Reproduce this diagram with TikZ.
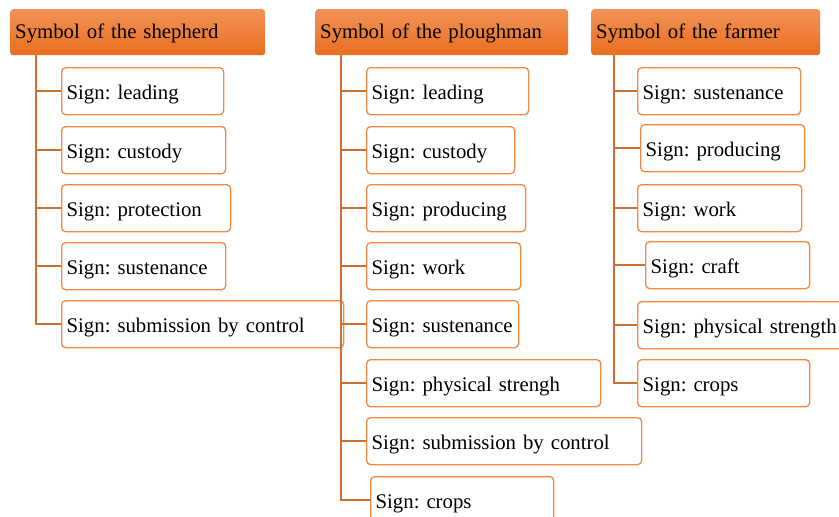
\documentclass[tikz,border=0pt]{standalone}
\usepackage{fontspec}
\setmainfont{Liberation Serif}
\usetikzlibrary{calc}
\definecolor{hdtop}{RGB}{243,146,88}
\definecolor{hdbot}{RGB}{232,110,30}
\definecolor{linec}{RGB}{205,112,52}
\definecolor{boxc}{RGB}{240,138,66}
\tikzset{
  oneline/.style={execute at begin node={\hbox\bgroup}, execute at end node={\egroup}},
  head/.style={anchor=north west, shading=axis, top color=hdtop, bottom color=hdbot,
    rounded corners=3pt, minimum height=46pt, inner xsep=5pt, inner ysep=0pt,
    text height=16pt, text depth=3pt, text width=#1, align=left, oneline},
  signbox/.style={anchor=north west, draw=boxc, line width=1.3pt, rounded corners=4pt,
    fill=white, minimum height=47pt, inner xsep=5pt, inner ysep=0pt,
    text height=19pt, text depth=2pt, text width=#1, align=left, oneline},
  conn/.style={draw=linec, line width=1.8pt}
}
\begin{document}
\frenchspacing
\begin{tikzpicture}[x=1pt,y=-1pt,font=\fontsize{20.8}{24}\selectfont]
\useasboundingbox (0,0) rectangle (839,517);
\clip (0,0) rectangle (839,517);

% column headers
\node[head=245pt] (h1) at (10,9) {Symbol of the shepherd};
\node[head=243pt] (h2) at (315,9) {Symbol of the ploughman};
\node[head=219pt] (h3) at (591,9) {Symbol of the farmer};

% trunk start points below each header
\path (h1.south west) ++(26pt,0) coordinate (t1);
\path (h2.south west) ++(26pt,0) coordinate (t2);
\path (h3.south west) ++(23pt,0) coordinate (t3);

% shepherd signs
\node[signbox=152pt] (a1) at (61,67)  {Sign: leading};
\node[signbox=154pt] (a2) at (61,126) {Sign: custody};
\node[signbox=159pt] (a3) at (61,184) {Sign: protection};
\node[signbox=154pt] (a4) at (61,242) {Sign: sustenance};
\node[signbox=272pt] (a5) at (61,300) {Sign: submission by control};

% ploughman signs
\node[signbox=152pt] (b1) at (366,67)  {Sign: leading};
\node[signbox=138pt] (b2) at (366,126) {Sign: custody};
\node[signbox=149pt] (b3) at (366,184) {Sign: producing};
\node[signbox=144pt] (b4) at (366,242) {Sign: work};
\node[signbox=142pt] (b5) at (366,300) {Sign: sustenance};
\node[signbox=224pt] (b6) at (366,359) {Sign: physical strengh};
\node[signbox=265pt] (b7) at (366,417) {Sign: submission by control};
\node[signbox=173pt] (b8) at (370,476) {Sign: crops};

% farmer signs
\node[signbox=153pt] (c1) at (637,67)  {Sign: sustenance};
\node[signbox=154pt] (c2) at (640,124) {Sign: producing};
\node[signbox=154pt] (c3) at (637,184) {Sign: work};
\node[signbox=154pt] (c4) at (645,241) {Sign: craft};
\node[signbox=200pt] (c5) at (637,301) {Sign: physical strength};
\node[signbox=162pt] (c6) at (637,359) {Sign: crops};

% connectors
\foreach \n in {a1,a2,a3,a4,a5} \draw[conn] (t1) |- (\n.west);
\foreach \n in {b1,b2,b3,b4,b5,b6,b7,b8} \draw[conn] (t2) |- (\n.west);
\foreach \n in {c1,c2,c3,c4,c5,c6} \draw[conn] (t3) |- (\n.west);
\end{tikzpicture}
\end{document}
